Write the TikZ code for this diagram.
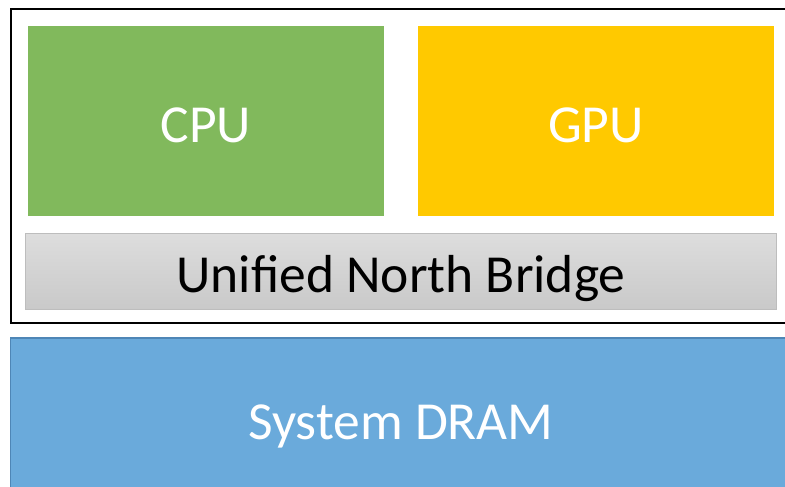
\documentclass[tikz,border=0pt]{standalone}
\usepackage{fontspec}
\setmainfont{Carlito}
\definecolor{cpugreen}{HTML}{81B95C}
\definecolor{gpuyellow}{HTML}{FFC900}
\definecolor{dramblue}{HTML}{6AAADB}
\definecolor{dramedge}{HTML}{4E86B6}
\definecolor{bridgetop}{HTML}{DDDDDD}
\definecolor{bridgebot}{HTML}{C9C9C9}
\definecolor{bridgeedge}{HTML}{BDBDBD}
\tikzset{
  label/.style={font=\fontsize{53.5}{60}\selectfont, anchor=base},
}
\begin{document}
\begin{tikzpicture}[x=1pt,y=-1pt]
  \useasboundingbox (0,0) rectangle (785,487);
  % chip package outline
  \draw[line width=2.8pt] (11,9) rectangle (800,323);
  % processing units
  \fill[cpugreen] (28,26) rectangle (384,216);
  \node[label, text=white] (cpu) at (206,142) {CPU};
  \fill[gpuyellow] (418,26) rectangle (774,216);
  \node[label, text=white] (gpu) at (596,142) {GPU};
  % north bridge bar
  \shade[top color=bridgetop, bottom color=bridgebot, draw=bridgeedge, line width=1.5pt]
    (25.5,233.5) rectangle (776.5,309.5);
  \node[label, text=black] (unb) at (401,292) {Unified North Bridge};
  % memory
  \draw[fill=dramblue, draw=dramedge, line width=1.6pt] (10.5,338) rectangle (800,500);
  \node[label, text=white] (dram) at (401,439) {System DRAM};
\end{tikzpicture}
\end{document}
